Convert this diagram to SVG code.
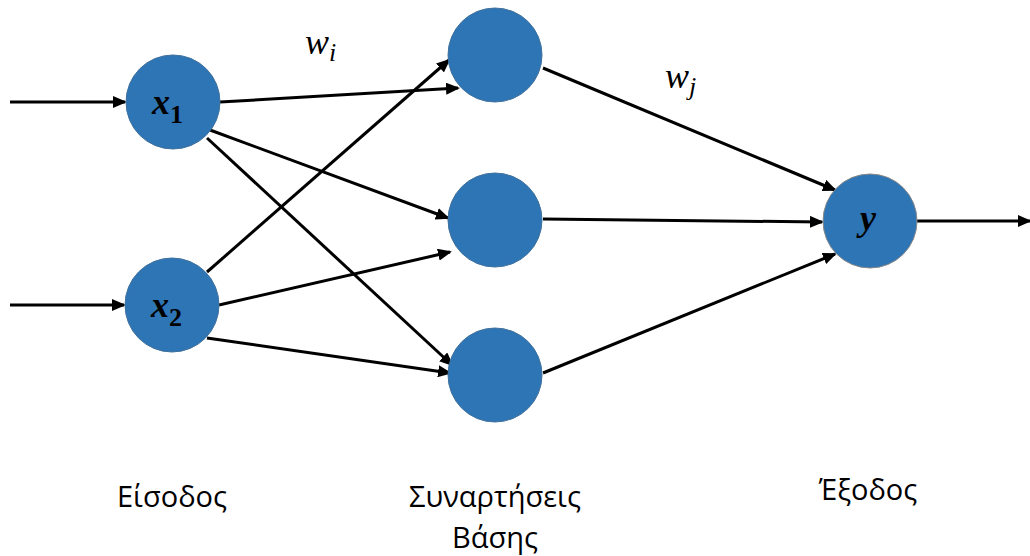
<svg xmlns="http://www.w3.org/2000/svg" width="1030" height="556" viewBox="0 0 1030 556">
<style>
.node{fill:#2E75B6;stroke:#41719C;stroke-width:1}
.lbl{font-family:"Liberation Serif",serif;font-style:italic;font-weight:bold;font-size:36px;fill:#000}
.w{font-family:"Liberation Serif",serif;font-style:italic;font-size:36px;fill:#000}
.cap{font-family:"Open Sans","Noto Sans",sans-serif;font-size:29px;fill:#000;text-anchor:middle}
.edge{stroke:#000;stroke-width:3;fill:none;marker-end:url(#arr)}
</style>
<defs>
<marker id="arr" markerWidth="14" markerHeight="12" refX="12" refY="6" orient="auto" markerUnits="userSpaceOnUse" viewBox="0 0 14 12">
<path d="M0,0 L14,6 L0,12 Z" fill="#000"/>
</marker>
</defs>
<g id="connectors">
<line class="edge" x1="10" y1="102" x2="125" y2="102"/>
<line class="edge" x1="10" y1="305" x2="124" y2="305"/>
<line class="edge" x1="220" y1="102" x2="458" y2="88"/>
<line class="edge" x1="210" y1="130" x2="448" y2="218"/>
<line class="edge" x1="207" y1="138" x2="452" y2="365"/>
<line class="edge" x1="207" y1="272" x2="449" y2="60"/>
<line class="edge" x1="219" y1="305" x2="450" y2="252"/>
<line class="edge" x1="207" y1="338" x2="450" y2="373"/>
<line class="edge" x1="543" y1="68" x2="835" y2="190"/>
<line class="edge" x1="543" y1="219" x2="822" y2="222"/>
<line class="edge" x1="543" y1="373" x2="835" y2="254"/>
<line class="edge" x1="917" y1="221" x2="1030" y2="221"/>
</g>
<g id="x1"><circle class="node" cx="173" cy="102" r="47"/><text class="lbl" x="152" y="114">x<tspan font-size="26" font-style="normal" dy="9">1</tspan></text></g>
<g id="x2"><circle class="node" cx="172" cy="305" r="47"/><text class="lbl" x="151" y="317">x<tspan font-size="26" font-style="normal" dy="9">2</tspan></text></g>
<g id="h1"><circle class="node" cx="495" cy="55" r="47"/></g>
<g id="h2"><circle class="node" cx="495" cy="220" r="47"/></g>
<g id="h3"><circle class="node" cx="495" cy="375" r="47"/></g>
<g id="y"><circle class="node" cx="870" cy="221" r="47" style="stroke:#888"/><text class="lbl" x="860" y="230">y</text></g>
<g id="labels">
<text class="w" x="305" y="54">w<tspan font-size="26" dy="7">i</tspan></text>
<text class="w" x="665" y="88">w<tspan font-size="26" dy="7">j</tspan></text>
<text class="cap" x="172" y="507">Είσοδος</text>
<text class="cap" x="495" y="507">Συναρτήσεις</text>
<text class="cap" x="495" y="548">Βάσης</text>
<text class="cap" x="868" y="500">Έξοδος</text>
</g>
</svg>
